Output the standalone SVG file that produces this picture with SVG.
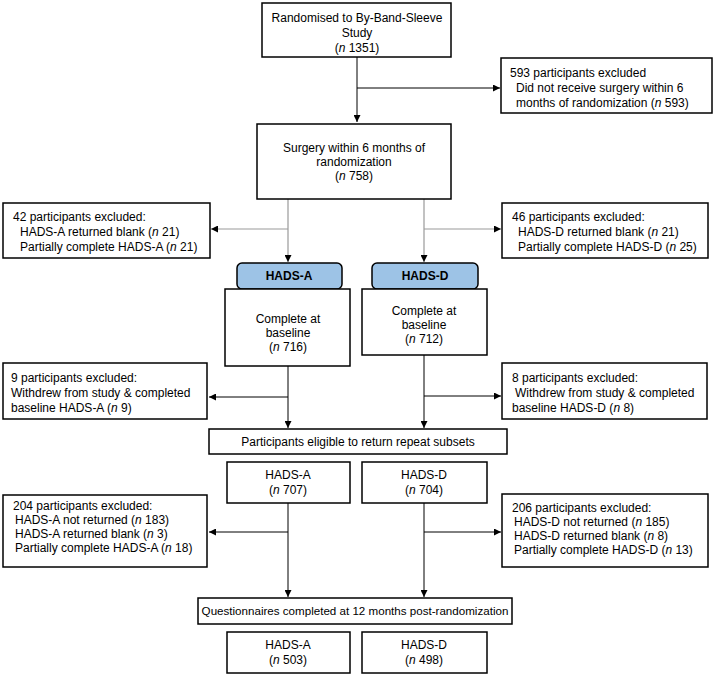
<svg xmlns="http://www.w3.org/2000/svg" width="715" height="676" viewBox="0 0 715 676">
<style>
  .box{fill:#fff;stroke:#000;stroke-width:1.5}
  .hdr{fill:#9dc3e6;stroke:#000;stroke-width:1.5}
  text{font-family:"Liberation Sans",Arial,sans-serif;font-size:12px;fill:#000}
  .c{text-anchor:middle}
  .b{font-weight:bold}
  .i{font-style:italic}
  .ln{stroke:#000;stroke-width:1;fill:none}
  .gl{stroke:#999;stroke-width:1.2;fill:none}
</style>
<defs>
  <marker id="ah" viewBox="0 0 10 10" refX="10" refY="5" markerWidth="7" markerHeight="7" markerUnits="userSpaceOnUse" orient="auto">
    <path d="M0,0 L10,5 L0,10 z" fill="#000"/>
  </marker>
</defs>
<rect width="715" height="676" fill="#fff"/>
<g id="connectors">
  <path class="ln" d="M357,57 V122" marker-end="url(#ah)"/>
  <path class="ln" d="M357,88 H500" marker-end="url(#ah)"/>
  <path class="gl" d="M288,199 V262" marker-end="url(#ah)"/>
  <path class="gl" d="M288,229 H211" marker-end="url(#ah)"/>
  <path class="gl" d="M424,199 V262" marker-end="url(#ah)"/>
  <path class="gl" d="M424,229 H501" marker-end="url(#ah)"/>
  <path class="ln" d="M288,366 V428" marker-end="url(#ah)"/>
  <path class="ln" d="M288,397 H209" marker-end="url(#ah)"/>
  <path class="ln" d="M424,355 V428" marker-end="url(#ah)"/>
  <path class="ln" d="M424,396 H501" marker-end="url(#ah)"/>
  <path class="ln" d="M288,503 V597" marker-end="url(#ah)"/>
  <path class="ln" d="M288,532 H209" marker-end="url(#ah)"/>
  <path class="ln" d="M424,503 V597" marker-end="url(#ah)"/>
  <path class="ln" d="M424,532 H501" marker-end="url(#ah)"/>
</g>
<g id="randomised">
  <rect class="box" x="262" y="3" width="189" height="54"/>
  <text class="c" x="357" y="22">Randomised to By-Band-Sleeve</text>
  <text class="c" x="357" y="37">Study</text>
  <text class="c" x="357" y="52">(<tspan class="i">n</tspan> 1351)</text>
</g>
<g id="excl593">
  <rect class="box" x="501" y="58" width="211" height="55"/>
  <text x="510" y="77">593 participants excluded</text>
  <text x="516" y="92">Did not receive surgery within 6</text>
  <text x="516" y="107">months of randomization (<tspan class="i">n</tspan> 593)</text>
</g>
<g id="surgery">
  <rect class="box" x="257" y="124" width="194" height="75"/>
  <text class="c" x="354" y="152">Surgery within 6 months of</text>
  <text class="c" x="354" y="166">randomization</text>
  <text class="c" x="354" y="180">(<tspan class="i">n</tspan> 758)</text>
</g>
<g id="excl42">
  <rect class="box" x="3" y="203" width="207" height="55"/>
  <text x="13" y="221">42 participants excluded:</text>
  <text x="20" y="236">HADS-A returned blank (<tspan class="i">n</tspan> 21)</text>
  <text x="20" y="251">Partially complete HADS-A (<tspan class="i">n</tspan> 21)</text>
</g>
<g id="excl46">
  <rect class="box" x="502" y="203" width="206" height="55"/>
  <text x="512" y="221">46 participants excluded:</text>
  <text x="518" y="236">HADS-D returned blank (<tspan class="i">n</tspan> 21)</text>
  <text x="518" y="251">Partially complete HADS-D (<tspan class="i">n</tspan> 25)</text>
</g>
<g id="hadsA-header">
  <rect class="hdr" x="237" y="263" width="105" height="26" rx="5"/>
  <text class="c b" x="289" y="280">HADS-A</text>
</g>
<g id="hadsD-header">
  <rect class="hdr" x="372" y="263" width="106" height="26" rx="5"/>
  <text class="c b" x="425" y="280">HADS-D</text>
</g>
<g id="completeA">
  <rect class="box" x="225" y="289" width="125" height="77"/>
  <text class="c" x="288" y="323">Complete at</text>
  <text class="c" x="288" y="337">baseline</text>
  <text class="c" x="288" y="351">(<tspan class="i">n</tspan> 716)</text>
</g>
<g id="completeD">
  <rect class="box" x="362" y="289" width="125" height="66"/>
  <text class="c" x="424" y="315">Complete at</text>
  <text class="c" x="424" y="329">baseline</text>
  <text class="c" x="424" y="343">(<tspan class="i">n</tspan> 712)</text>
</g>
<g id="excl9">
  <rect class="box" x="3" y="363" width="204" height="56"/>
  <text x="11" y="382">9 participants excluded:</text>
  <text x="11" y="397">Withdrew from study &amp; completed</text>
  <text x="11" y="412">baseline HADS-A (<tspan class="i">n</tspan> 9)</text>
</g>
<g id="excl8">
  <rect class="box" x="502" y="363" width="205" height="56"/>
  <text x="512" y="382">8 participants excluded:</text>
  <text x="515" y="397">Withdrew from study &amp; completed</text>
  <text x="512" y="412">baseline HADS-D (<tspan class="i">n</tspan> 8)</text>
</g>
<g id="eligible">
  <rect class="box" x="209" y="429" width="298" height="25"/>
  <text class="c" x="358" y="446">Participants eligible to return repeat subsets</text>
</g>
<g id="eligA">
  <rect class="box" x="227" y="462" width="123" height="41"/>
  <text class="c" x="288" y="479">HADS-A</text>
  <text class="c" x="288" y="494">(<tspan class="i">n</tspan> 707)</text>
</g>
<g id="eligD">
  <rect class="box" x="362" y="462" width="125" height="41"/>
  <text class="c" x="424" y="479">HADS-D</text>
  <text class="c" x="424" y="494">(<tspan class="i">n</tspan> 704)</text>
</g>
<g id="excl204">
  <rect class="box" x="3" y="495" width="204" height="72"/>
  <text x="13" y="510">204 participants excluded:</text>
  <text x="15" y="524">HADS-A not returned (<tspan class="i">n</tspan> 183)</text>
  <text x="15" y="538">HADS-A returned blank (<tspan class="i">n</tspan> 3)</text>
  <text x="15" y="552">Partially complete HADS-A (<tspan class="i">n</tspan> 18)</text>
</g>
<g id="excl206">
  <rect class="box" x="502" y="494" width="206" height="73"/>
  <text x="512" y="512">206 participants excluded:</text>
  <text x="514" y="526">HADS-D not returned (<tspan class="i">n</tspan> 185)</text>
  <text x="514" y="540">HADS-D returned blank (<tspan class="i">n</tspan> 8)</text>
  <text x="514" y="554">Partially complete HADS-D (<tspan class="i">n</tspan> 13)</text>
</g>
<g id="questionnaires">
  <rect class="box" x="198" y="598" width="314" height="26"/>
  <text class="c" x="355" y="615" style="font-size:11.6px">Questionnaires completed at 12 months post-randomization</text>
</g>
<g id="finalA">
  <rect class="box" x="227" y="632" width="123" height="41"/>
  <text class="c" x="288" y="649">HADS-A</text>
  <text class="c" x="288" y="664">(<tspan class="i">n</tspan> 503)</text>
</g>
<g id="finalD">
  <rect class="box" x="362" y="632" width="125" height="41"/>
  <text class="c" x="424" y="649">HADS-D</text>
  <text class="c" x="424" y="664">(<tspan class="i">n</tspan> 498)</text>
</g>
</svg>
